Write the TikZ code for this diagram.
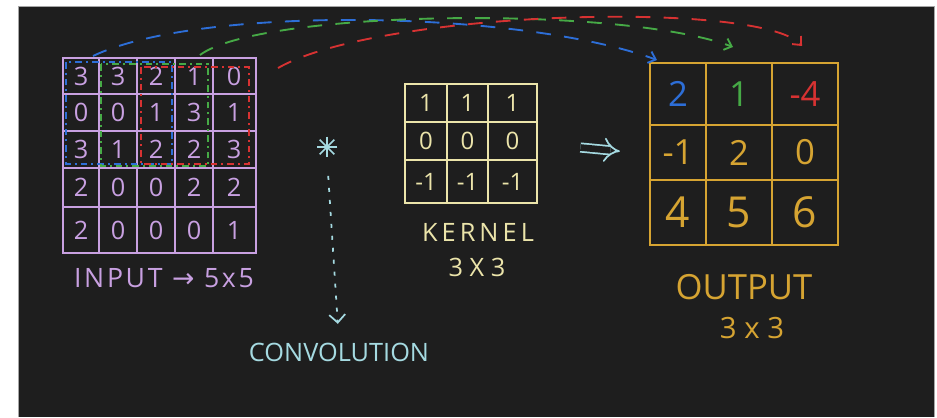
\documentclass[tikz,border=0pt]{standalone}
\usepackage{fontspec}
\setmainfont{Open Sans}
\newfontfamily\symf{DejaVu Sans}
\usetikzlibrary{arrows.meta}
\definecolor{bg}{HTML}{1E1E1E}
\definecolor{lav}{RGB}{200,160,225}
\definecolor{kery}{RGB}{235,228,170}
\definecolor{gold}{RGB}{214,164,50}
\definecolor{cy}{RGB}{165,218,225}
\definecolor{bl}{RGB}{45,110,215}
\definecolor{gr}{RGB}{70,170,70}
\definecolor{rd}{RGB}{215,50,50}
\tikzset{
  ingrid/.style={draw=lav, line width=1.4pt},
  kgrid/.style={draw=kery, line width=1.4pt},
  ogrid/.style={draw=gold, line width=1.4pt},
  innum/.style={text=lav, font=\fontsize{19}{20}\selectfont, inner sep=0pt},
  knum/.style={text=kery, font=\fontsize{18}{19}\selectfont, inner sep=0pt},
  onum/.style={text=gold, font=\fontsize{26}{27}\selectfont, inner sep=0pt},
  onumb/.style={text=gold, font=\fontsize{32}{33}\selectfont, inner sep=0pt},
  win/.style={line width=1.1pt, dash pattern=on 5pt off 3pt on 1.5pt off 3pt},
  arc/.style={line width=1.4pt, dash pattern=on 11pt off 10pt, -{Straight Barb[length=5pt,width=9pt,line width=1.4pt]}},
  lbl/.style={inner sep=0pt}
}
\begin{document}
\begin{tikzpicture}[x=0.75pt,y=-0.75pt]
\useasboundingbox (0,0) rectangle (937,417);
\fill[white] (0,0) rectangle (937,417);
\fill[bg] (18,6) rectangle (934,417);
\draw[gray!70, line width=0.6pt] (18,417) -- (18,6) -- (934,6) -- (934,417);

% ---------- input 5x5 ----------
\draw[ingrid] (63,58) rectangle (256,253);
\foreach \x in {99,137,175,213} \draw[ingrid] (\x,58) -- (\x,253);
\foreach \y in {94,131,168,207} \draw[ingrid] (63,\y) -- (256,\y);

\node[innum] (i11) at (81,76) {3};
\node[innum] (i12) at (118,76) {3};
\node[innum] (i13) at (156,76) {2};
\node[innum] (i14) at (194,76) {1};
\node[innum] (i15) at (234,76) {0};
\node[innum] (i21) at (81,112.5) {0};
\node[innum] (i22) at (118,112.5) {0};
\node[innum] (i23) at (156,112.5) {1};
\node[innum] (i24) at (194,112.5) {3};
\node[innum] (i25) at (234,112.5) {1};
\node[innum] (i31) at (81,149.5) {3};
\node[innum] (i32) at (118,149.5) {1};
\node[innum] (i33) at (156,149.5) {2};
\node[innum] (i34) at (194,149.5) {2};
\node[innum] (i35) at (234,149.5) {3};
\node[innum] (i41) at (81,187.5) {2};
\node[innum] (i42) at (118,187.5) {0};
\node[innum] (i43) at (156,187.5) {0};
\node[innum] (i44) at (194,187.5) {2};
\node[innum] (i45) at (234,187.5) {2};
\node[innum] (i51) at (81,230) {2};
\node[innum] (i52) at (118,230) {0};
\node[innum] (i53) at (156,230) {0};
\node[innum] (i54) at (194,230) {0};
\node[innum] (i55) at (234,230) {1};

% windows
\draw[win, bl] (66,62) rectangle (172,164);
\draw[win, gr] (101,64) rectangle (208,166);
\draw[win, rd] (141,67) rectangle (249,164);

\node[lbl, text=lav, font=\fontsize{20}{21}\selectfont\addfontfeature{LetterSpace=10}] (inlbl) at (164,278) {INPUT {\symf →} 5x5};

% ---------- kernel ----------
\node[kgrid, minimum width=99pt, minimum height=89.25pt, inner sep=0pt] (kbox) at (471,143.5) {};
\draw[kgrid] (447,84) -- (447,203);
\draw[kgrid] (488,84) -- (488,203);
\draw[kgrid] (405,122) -- (537,122);
\draw[kgrid] (405,160) -- (537,160);
\node[knum] (k11) at (426,103) {1};
\node[knum] (k12) at (467.5,103) {1};
\node[knum] (k13) at (512.5,103) {1};
\node[knum] (k21) at (426,141) {0};
\node[knum] (k22) at (467.5,141) {0};
\node[knum] (k23) at (512.5,141) {0};
\node[knum] (k31) at (426,181.5) {-1};
\node[knum] (k32) at (467.5,181.5) {-1};
\node[knum] (k33) at (512.5,181.5) {-1};
\node[lbl, text=kery, font=\fontsize{19}{20}\selectfont\addfontfeature{LetterSpace=16}] (klbl) at (478,232) {KERNEL};
\node[lbl, text=kery, font=\fontsize{19}{20}\selectfont] (kdim) at (477,267) {3 X 3};

% ---------- output ----------
\node[ogrid, minimum width=141pt, minimum height=136.5pt, inner sep=0pt] (obox) at (744,154) {};
\draw[ogrid] (706,63) -- (706,245);
\draw[ogrid] (772,63) -- (772,245);
\draw[ogrid] (650,125) -- (838,125);
\draw[ogrid] (650,180) -- (838,180);
\node[onum, text=bl] (o11) at (678,94) {2};
\node[onum, text=gr] (o12) at (739,94) {1};
\node[onum, text=rd] (o13) at (805,94) {-4};
\node[onum] (o21) at (678,152.5) {-1};
\node[onum] (o22) at (739,152.5) {2};
\node[onum] (o23) at (805,152.5) {0};
\node[onumb] (o31) at (678,212.5) {4};
\node[onumb] (o32) at (739,212.5) {5};
\node[onumb] (o33) at (805,212.5) {6};
\node[lbl, text=gold, font=\fontsize{26}{27}\selectfont] (olbl) at (744,287) {OUTPUT};
\node[lbl, text=gold, font=\fontsize{22}{23}\selectfont] (odim) at (752,328) {3 x 3};

% ---------- convolution ----------
\node[circle, minimum size=15pt, inner sep=0pt] (ast) at (327,147) {};
\draw[cy, line width=1.3pt] (ast.north) -- (ast.south);
\draw[cy, line width=1.3pt] (ast.east) -- (ast.west);
\draw[cy, line width=1.3pt] (ast.north east) -- (ast.south west);
\draw[cy, line width=1.3pt] (ast.north west) -- (ast.south east);
\node[lbl, text=cy, font=\fontsize{19}{20}\selectfont] (conv) at (339,352) {CONVOLUTION};
\draw[cy, line width=1.3pt, dash pattern=on 3pt off 6pt, shorten <=14pt, shorten >=14pt,
  -{Straight Barb[length=6pt,width=12pt,line width=1.3pt]}] (ast.south) -- (conv.north);

% ---------- implies ----------
\draw[cy, line width=1.3pt, double=bg, double distance=5pt, shorten <=32pt, shorten >=22pt, -{Implies}] (kbox.east) -- (obox.west);

% ---------- arcs ----------
\coordinate (bs) at (93,56);
\coordinate (be) at (657,60);
\coordinate (gs) at (200,55);
\coordinate (ge) at (733,47);
\coordinate (rs) at (278,68);
\coordinate (re) at (802,46);
\draw[arc, bl] (bs) .. controls (200,5) and (520,10) .. (be);
\draw[arc, gr] (gs) .. controls (260,10) and (620,5) .. (ge);
\draw[arc, rd] (rs) .. controls (380,10) and (760,0) .. (re);
\end{tikzpicture}
\end{document}
